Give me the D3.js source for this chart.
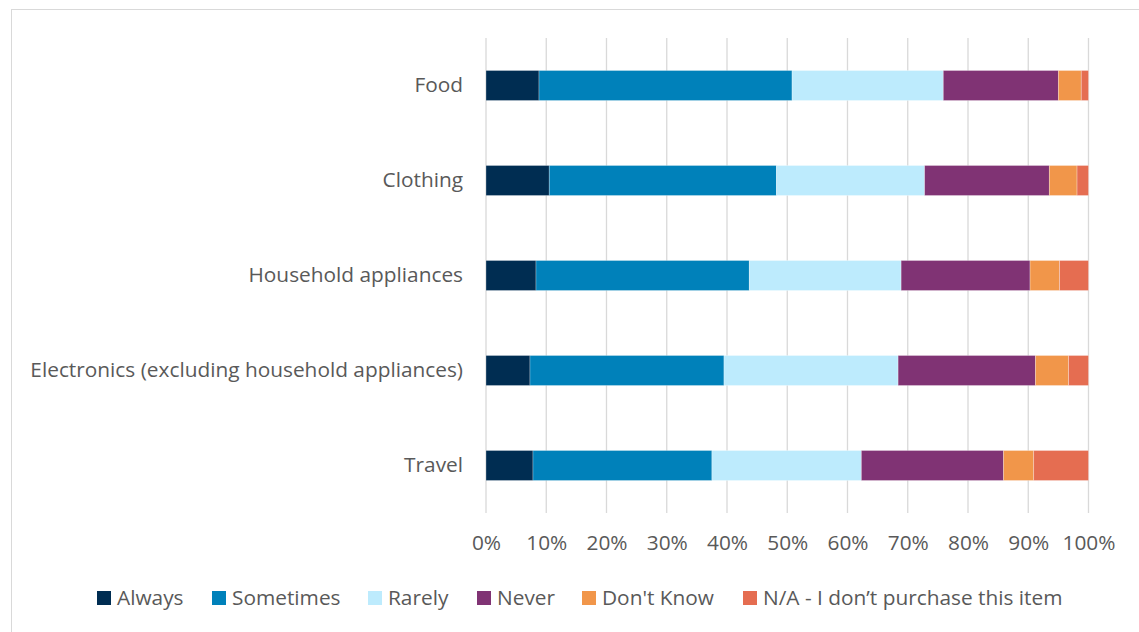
<!DOCTYPE html>
<html>
<head>
<meta charset="utf-8">
<script src="https://cdn.jsdelivr.net/npm/d3@7"></script>
<style>
  html, body { margin: 0; padding: 0; background: #ffffff; }
  svg { display: block; }
  text { font-family: "Open Sans", Lato, sans-serif; fill: #595959; }
</style>
</head>
<body>
<svg id="chart" width="1139" height="632"></svg>
<script>
// Purchase frequency by item category (share of respondents, %)
const categories = ["Food", "Clothing", "Household appliances", "Electronics (excluding household appliances)", "Travel"];
const seriesNames = ["Always", "Sometimes", "Rarely", "Never", "Don't Know", "N/A - I don\u2019t purchase this item"];
const always    = [8.8, 10.5, 8.3, 7.3, 7.8];
const sometimes = [42.0, 37.7, 35.4, 32.2, 29.7];
const rarely    = [25.1, 24.6, 25.2, 28.9, 24.8];
const never     = [19.1, 20.7, 21.4, 22.8, 23.6];
const dontKnow  = [3.8, 4.6, 4.9, 5.5, 5.0];
const notApplicable = [1.2, 1.9, 4.8, 3.3, 9.1];
const tickValues = [0, 10, 20, 30, 40, 50, 60, 70, 80, 90, 100];
const colors = ["#002D52", "#0081BA", "#BDEBFD", "#803374", "#F1964A", "#E56D51"];

const seriesValues = [always, sometimes, rarely, never, dontKnow, notApplicable];
const rows = categories.map((c, i) => {
  const r = { category: c };
  seriesNames.forEach((s, j) => { r[s] = seriesValues[j][i]; });
  return r;
});

const svg = d3.select("#chart");
const W = 1139, H = 632;

// pick a font size so the longest category label spans ~433px
const probe = svg.append("text").attr("font-size", 20).text(categories[3]);
const probeW = probe.node().getComputedTextLength();
probe.remove();
const fs = Math.max(16, Math.min(22, 20 * 433 / probeW));

// outer frame
svg.append("rect")
  .attr("x", 11.5).attr("y", 9.5)
  .attr("width", W).attr("height", H)
  .attr("fill", "none").attr("stroke", "#d9d9d9").attr("stroke-width", 1);

const x = d3.scaleLinear().domain([0, 100]).range([486, 1088.5]);
const y = d3.scaleBand().domain(categories).range([38, 513]).paddingInner(65 / 95).paddingOuter(32.5 / 95);

// vertical gridlines
svg.append("g").selectAll("line")
  .data(tickValues)
  .join("line")
  .attr("x1", d => x(d)).attr("x2", d => x(d))
  .attr("y1", 38).attr("y2", 513)
  .attr("stroke", "#d9d9d9").attr("stroke-width", 1.3);

// stacked bars
const stack = d3.stack().keys(seriesNames)(rows);
svg.append("g").selectAll("g")
  .data(stack)
  .join("g")
  .attr("fill", (d, i) => colors[i])
  .selectAll("rect")
  .data(d => d)
  .join("rect")
  .attr("x", d => x(d[0]))
  .attr("width", d => x(d[1]) - x(d[0]))
  .attr("y", d => y(d.data.category))
  .attr("height", y.bandwidth())
  .attr("stroke", "#ffffff").attr("stroke-opacity", 0.35).attr("stroke-width", 0.8);

// category labels
svg.append("g").selectAll("text")
  .data(categories)
  .join("text")
  .attr("x", 463)
  .attr("y", d => y(d) + y.bandwidth() / 2 + 6.5)
  .attr("text-anchor", "end")
  .attr("font-size", fs)
  .text(d => d);

// x axis tick labels
const xAxis = d3.axisBottom(x).tickValues(tickValues).tickFormat(d => d + "%").tickSize(0).tickPadding(0);
const ax = svg.append("g").attr("transform", "translate(0,535)").call(xAxis);
ax.select(".domain").remove();
ax.selectAll("text").attr("font-size", fs).attr("fill", "#595959")
  .attr("font-family", "'Open Sans', Lato, sans-serif");

// legend
const legendX = [97, 212, 368, 477, 582, 743];
const legend = svg.append("g").selectAll("g")
  .data(seriesNames)
  .join("g")
  .attr("transform", (d, i) => `translate(${legendX[i]},591)`);
legend.append("rect").attr("width", 14).attr("height", 14).attr("fill", (d, i) => colors[i]);
legend.append("text").attr("x", 20).attr("y", 13.5).attr("font-size", fs).text(d => d);
</script>
</body>
</html>
